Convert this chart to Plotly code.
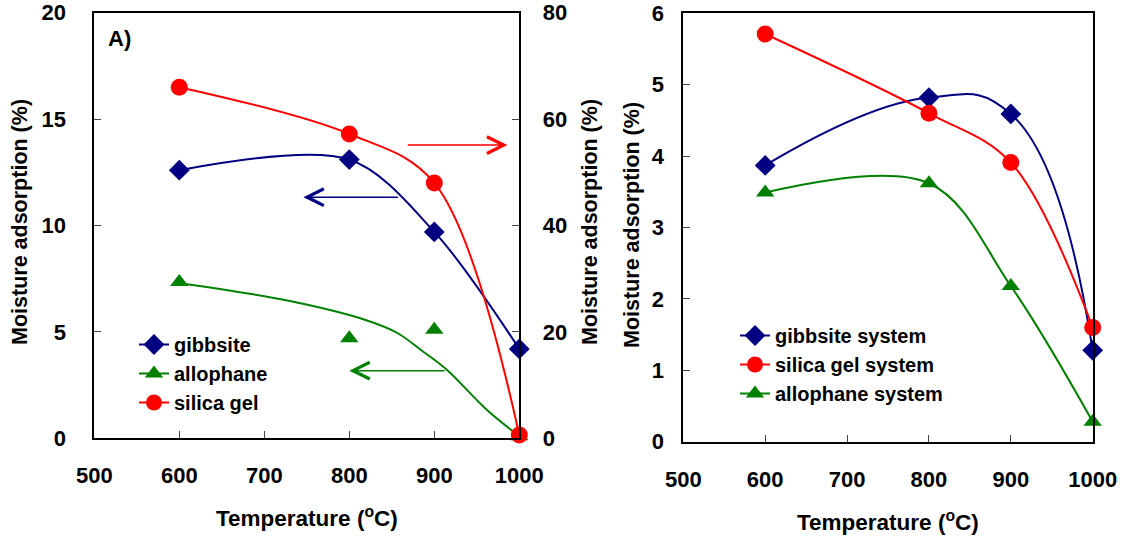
import plotly.graph_objects as go

W, H = 1136, 537

# ---- data -------------------------------------------------------------
temps = [600, 800, 900, 1000]

# Panel A (left axis: gibbsite, allophane; right axis: silica gel)
gibbsite = [12.6, 13.1, 9.7, 4.2]
allophane = [7.35, 4.7, 5.1, 0.1]
silica_gel = [66.0, 57.2, 48.0, 0.6]

# allophane trend curve
allophane_trend_t = [600, 730, 820, 856, 887, 915, 962, 1000]
allophane_trend = [7.3, 6.45, 5.55, 4.96, 4.07, 3.21, 1.33, 0.1]

# Panel B (systems)
gibbsite_sys = [3.87, 4.82, 4.59, 1.28]
silica_gel_sys = [5.71, 4.60, 3.91, 1.60]
allophane_sys = [3.49, 3.62, 2.18, 0.28]

x_ticks = [500, 600, 700, 800, 900, 1000]

NAVY, RED, GREEN = "#000080", "#FF0000", "#008000"
FONT = "Liberation Sans, Arial, sans-serif"


def px_x(p):
    return p / W


def px_y(p):
    return 1 - p / H


def bold(size):
    return dict(family=FONT, size=size, color="black", weight="bold")


fig = go.Figure()

# ---- panel A ------------------------------------------------------------
fig.add_trace(go.Scatter(
    x=temps, y=gibbsite, name="gibbsite", mode="lines+markers",
    line=dict(color=NAVY, width=2, shape="spline", smoothing=0.9),
    marker=dict(symbol="diamond", size=16, color=NAVY),
    xaxis="x", yaxis="y", legend="legend", cliponaxis=False))

fig.add_trace(go.Scatter(
    x=allophane_trend_t, y=allophane_trend, mode="lines", showlegend=False,
    line=dict(color=GREEN, width=2, shape="spline", smoothing=1),
    xaxis="x", yaxis="y", cliponaxis=False, hoverinfo="skip"))

fig.add_trace(go.Scatter(
    x=temps, y=allophane, mode="markers", showlegend=False, name="allophane",
    marker=dict(symbol="triangle-up", size=16, color=GREEN),
    xaxis="x", yaxis="y", cliponaxis=False))

# legend entry for allophane (markers + trend line)
fig.add_trace(go.Scatter(
    x=[None], y=[None], name="allophane", mode="lines+markers",
    line=dict(color=GREEN, width=2),
    marker=dict(symbol="triangle-up", size=16, color=GREEN),
    xaxis="x", yaxis="y", legend="legend"))

fig.add_trace(go.Scatter(
    x=temps, y=silica_gel, name="silica gel", mode="lines+markers",
    line=dict(color=RED, width=2, shape="spline", smoothing=1),
    marker=dict(symbol="circle", size=17, color=RED),
    xaxis="x", yaxis="y2", legend="legend", cliponaxis=False))

# ---- panel B ------------------------------------------------------------
fig.add_trace(go.Scatter(
    x=temps, y=gibbsite_sys, name="gibbsite system", mode="lines+markers",
    line=dict(color=NAVY, width=2, shape="spline", smoothing=1.3),
    marker=dict(symbol="diamond", size=16, color=NAVY),
    xaxis="x2", yaxis="y3", legend="legend2", cliponaxis=False))

fig.add_trace(go.Scatter(
    x=temps, y=silica_gel_sys, name="silica gel system", mode="lines+markers",
    line=dict(color=RED, width=2, shape="spline", smoothing=1),
    marker=dict(symbol="circle", size=17, color=RED),
    xaxis="x2", yaxis="y3", legend="legend2", cliponaxis=False))

fig.add_trace(go.Scatter(
    x=temps, y=allophane_sys, name="allophane system", mode="lines+markers",
    line=dict(color=GREEN, width=2, shape="spline", smoothing=1),
    marker=dict(symbol="triangle-up", size=16, color=GREEN),
    xaxis="x2", yaxis="y3", legend="legend2", cliponaxis=False))

# ---- axes ---------------------------------------------------------------
common = dict(
    showline=True, linecolor="black", linewidth=2, showgrid=False,
    zeroline=False, ticks="inside", ticklen=7, tickwidth=1,
    tickcolor="#444444", tickfont=bold(22), automargin=False,
)

fig.update_layout(
    template="none",
    width=W, height=H,
    margin=dict(l=0, r=0, t=0, b=0, pad=0, autoexpand=False),
    paper_bgcolor="white", plot_bgcolor="white",
    xaxis=dict(domain=[px_x(94.3), px_x(519.3)], range=[500, 1000],
               tickvals=x_ticks, anchor="y", mirror=True,
               ticklabelstandoff=16, **common),
    yaxis=dict(domain=[px_y(438.3), px_y(12.7)], range=[0, 20], dtick=5,
               anchor="x", ticklabelstandoff=22, **common),
    yaxis2=dict(range=[0, 80], dtick=20, overlaying="y", side="right",
                anchor="x", ticklabelstandoff=17, **common),
    xaxis2=dict(domain=[px_x(683.3), px_x(1092.7)], range=[500, 1000],
                tickvals=x_ticks, anchor="y3", mirror=True,
                ticklabelstandoff=17, **common),
    yaxis3=dict(domain=[px_y(441.7), px_y(13.3)], range=[0, 6], dtick=1,
                anchor="x2", mirror=True, ticklabelstandoff=13, **common),
    legend=dict(x=px_x(134), y=px_y(325), xanchor="left", yanchor="top",
                bgcolor="rgba(0,0,0,0)", font=bold(20), tracegroupgap=0),
    legend2=dict(x=px_x(735), y=px_y(316), xanchor="left", yanchor="top",
                 bgcolor="rgba(0,0,0,0)", font=bold(20), tracegroupgap=0),
)

# ---- titles and labels ---------------------------------------------------
ann = []
ylabel = "Moisture adsorption (%)"
xlabel = "Temperature (<sup>o</sup>C)"
for xc, yc in [(20, 222), (590, 222), (632, 225)]:
    ann.append(dict(text=ylabel, x=px_x(xc), y=px_y(yc), xref="paper",
                    yref="paper", textangle=-90, showarrow=False,
                    font=bold(21.5), xanchor="center", yanchor="middle"))
for xc, yc in [(306.8, 517), (888, 521)]:
    ann.append(dict(text=xlabel, x=px_x(xc), y=px_y(yc), xref="paper",
                    yref="paper", showarrow=False, font=bold(22.5),
                    xanchor="center", yanchor="middle"))
ann.append(dict(text="A)", x=px_x(106), y=px_y(39), xref="paper",
                yref="paper", showarrow=False, font=bold(22),
                xanchor="left", yanchor="middle"))

# arrows pointing to the axis each curve belongs to
for head_x, tail_x, yv, col in [(746, 859, 11.33, NAVY),
                                (986, 867, 13.78, RED),
                                (800, 914, 3.18, GREEN)]:
    ann.append(dict(x=head_x, y=yv, ax=tail_x, ay=yv, xref="x", yref="y",
                    axref="x", ayref="y", showarrow=True, arrowhead=5,
                    arrowsize=2.2, arrowwidth=1.5, arrowcolor=col, text=""))

fig.update_layout(annotations=ann)

fig.write_html("out.html")
